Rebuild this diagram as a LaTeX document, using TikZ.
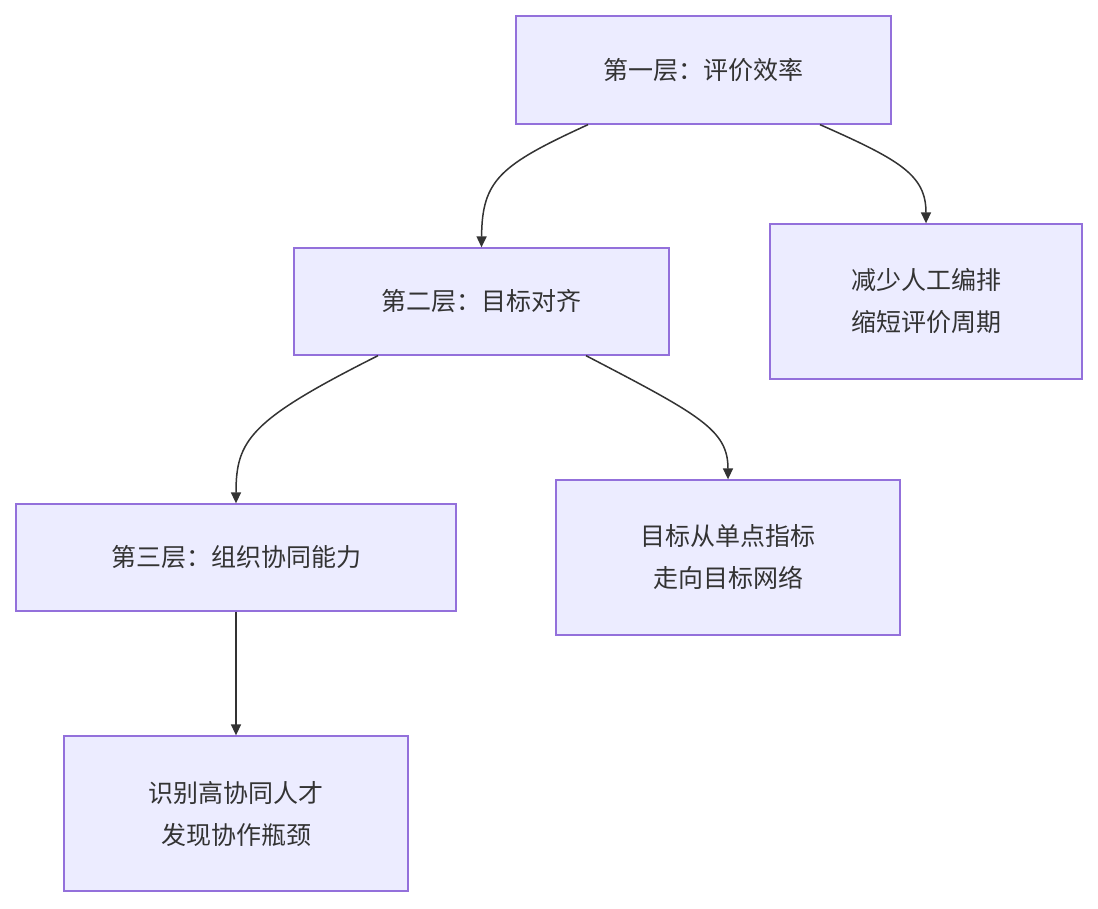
\documentclass[tikz,border=0pt]{standalone}
\usepackage{fontspec}
\setmainfont{Noto Sans CJK SC}
\usetikzlibrary{calc,arrows.meta}
\definecolor{bx}{HTML}{ECECFF}
\definecolor{bd}{HTML}{9370DB}
\definecolor{tx}{HTML}{333333}
\begin{document}
\begin{tikzpicture}[x=1pt,y=-1pt,
  box/.style={draw=bd,fill=bx,line width=1.3pt,text=tx,font=\fontsize{25}{42}\selectfont,align=center,inner sep=0pt},
  arr/.style={draw=tx,line width=1.5pt,-{Triangle[length=11pt,width=10pt]}}]
\useasboundingbox (0,0) rectangle (1098,908);
\node[box,minimum width=375pt,minimum height=108pt] (A) at (703.5,70) {第一层：评价效率};
\node[box,minimum width=375pt,minimum height=107pt] (B) at (481.5,301.5) {第二层：目标对齐};
\node[box,minimum width=312pt,minimum height=155pt] (C) at (926,301.5) {减少人工编排\\缩短评价周期};
\node[box,minimum width=440pt,minimum height=107pt] (D) at (236,557.5) {第三层：组织协同能力};
\node[box,minimum width=344pt,minimum height=155pt] (E) at (728,557.5) {目标从单点指标\\走向目标网络};
\node[box,minimum width=344pt,minimum height=155pt] (F) at (236,813.5) {识别高协同人才\\发现协作瓶颈};
\coordinate (a1) at ($(A.south)+(-115.5,0)$);
\coordinate (a2) at ($(A.south)+(116.5,0)$);
\coordinate (b1) at ($(B.south)+(-103.5,0)$);
\coordinate (b2) at ($(B.south)+(104.5,0)$);
\draw[arr] (a1) .. controls (500,165) and (482,180) .. (B.north);
\draw[arr] (a2) .. controls (900,160) and (926,175) .. (C.north);
\draw[arr] (b1) .. controls (250,420) and (236,440) .. (D.north);
\draw[arr] (b2) .. controls (700,415) and (728,430) .. (E.north);
\draw[arr] (D.south) -- (F.north);
\end{tikzpicture}
\end{document}
